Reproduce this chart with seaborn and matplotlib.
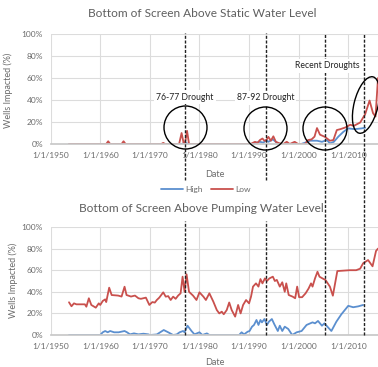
import numpy as np
import pandas as pd
import matplotlib
matplotlib.use("Agg")
import matplotlib.pyplot as plt
import matplotlib.transforms as mtransforms
from matplotlib.lines import Line2D
from matplotlib.patches import Ellipse
import seaborn as sns

# static water level - low
static_low_year = [1953.7, 1961.2, 1961.6, 1962.0, 1964.3, 1964.7, 1965.1, 1972.3, 1972.7, 1973.1,
                   1975.9, 1976.4, 1976.8, 1977.1, 1977.5, 1977.9, 1990.3, 1991.2, 1991.7, 1992.2,
                   1992.7, 1993.1, 1993.4, 1993.9, 1994.4, 1994.9, 1995.4, 1996.2, 1996.9, 1997.6,
                   1998.2, 1999.2, 1999.9, 2001.3, 2001.9, 2002.6, 2003.2, 2003.7, 2004.3, 2005.3,
                   2006.3, 2007.0, 2007.7, 2008.4, 2009.4, 2010.4, 2011.1, 2012.4, 2013.4, 2014.3,
                   2015.0, 2015.5, 2016.0]
static_low = [0, 0, 2.5, 0, 0, 2.5, 0, 0, 1, 0,
              0, 10, 1, 1, 12, 0, 0, 2, 1, 3.6,
              5, 3, 3, 6.5, 3, 7, 2, 0.5, 0, 2,
              0, 2, 0, 0, 3.6, 4.2, 6.7, 14.5, 8.5, 6.5,
              3, 3.6, 12.7, 13.5, 15, 17.5, 16.5, 19.5, 27, 39.5,
              28, 25, 60]

# static water level - high
static_high_year = [1953.7, 1976.5, 1977.0, 1977.5, 1978.0, 1990.5, 1991.2, 1992.2, 1992.9, 1993.4,
                    1993.9, 1994.8, 1995.6, 1996.2, 2000.5, 2001.3, 2002.3, 2003.7, 2004.7, 2005.7,
                    2006.3, 2007.1, 2008.0, 2009.0, 2010.0, 2011.3, 2012.7, 2013.4]
static_high = [0, 0, 1.5, 0.5, 0, 0, 1, 2, 1.2, 3.6,
               2, 4.2, 1.2, 0, 0, 1.2, 3, 3, 2, 3.6,
               0.6, 2, 6.7, 11, 14.2, 13.5, 14.2, 14.8]

# pumping water level - low
pump_low_year = [1953.7, 1954.2, 1954.7, 1955.2, 1956.9, 1957.2, 1957.7, 1958.2, 1959.1, 1959.7,
                 1960.0, 1960.5, 1961.0, 1961.2, 1961.8, 1962.3, 1963.6, 1964.3, 1964.9, 1965.3,
                 1966.2, 1967.0, 1967.7, 1968.2, 1969.2, 1969.9, 1970.5, 1971.0, 1971.4, 1971.9,
                 1972.7, 1973.2, 1973.7, 1974.2, 1974.7, 1975.2, 1975.7, 1976.2, 1976.6, 1977.0,
                 1977.4, 1977.9, 1978.7, 1979.4, 1980.0, 1980.8, 1981.3, 1982.0, 1982.8, 1983.5,
                 1984.0, 1984.5, 1984.9, 1985.5, 1986.0, 1986.5, 1987.2, 1987.8, 1988.3, 1988.8,
                 1989.4, 1990.0, 1990.4, 1990.8, 1991.4, 1991.9, 1992.3, 1992.7, 1993.2, 1993.6,
                 1994.1, 1994.8, 1995.2, 1995.6, 1996.2, 1996.7, 1997.2, 1997.5, 1998.0, 1998.8,
                 1999.3, 1999.7, 2000.1, 2000.7, 2001.4, 2002.0, 2002.5, 2002.8, 2003.3, 2003.8,
                 2004.2, 2004.8, 2005.4, 2006.3, 2006.9, 2007.8, 2010.3, 2011.6, 2012.4, 2013.0,
                 2014.0, 2014.9, 2015.6, 2016.0]
pump_low = [30.3, 26.6, 29.3, 28.4, 28.4, 26.2, 34, 27.8, 25.3, 29.3,
            27.8, 31.5, 33, 30.5, 43.8, 37, 36.5, 35.6, 44.7, 37,
            35.6, 36.5, 34, 33.5, 34.6, 27.8, 30.5, 30, 32.4, 34.6,
            39.5, 35.5, 36, 32.4, 35.5, 33.5, 36.5, 38.6, 54, 40,
            56.2, 40, 36.5, 32.4, 39.5, 35.5, 32.4, 38.6, 30.9, 23.1,
            20, 21.6, 19.2, 23.1, 30.1, 23.1, 17, 27.8, 20, 27.8,
            32.4, 29.3, 35.5, 44.8, 47.8, 44.8, 51.8, 47.8, 52.4, 50,
            52.4, 54, 50, 51, 44.8, 48.8, 40, 47.8, 37, 35.5,
            34, 44.8, 35, 35, 38.6, 43, 47.8, 44.8, 52.4, 58.6,
            54, 52.4, 51, 44.8, 36.4, 59.2, 60, 60, 61.4, 66.4,
            69.4, 63.6, 77.8, 80]

# pumping water level - high
pump_high_year = [1953.7, 1960.0, 1960.5, 1961.0, 1961.5, 1962.0, 1962.8, 1963.7, 1964.9, 1965.4,
                  1966.0, 1966.8, 1967.7, 1968.7, 1969.7, 1970.0, 1971.4, 1972.8, 1973.7, 1974.7,
                  1975.4, 1976.0, 1976.7, 1977.0, 1977.6, 1978.4, 1979.0, 1980.0, 1980.6, 1981.5,
                  1982.0, 1988.0, 1988.5, 1989.0, 1989.7, 1990.1, 1990.6, 1991.0, 1991.5, 1991.9,
                  1992.3, 1992.6, 1993.1, 1993.6, 1994.0, 1994.6, 1995.1, 1995.8, 1996.2, 1996.7,
                  1997.2, 1997.9, 1998.7, 1999.6, 2000.6, 2001.6, 2002.8, 2003.3, 2003.9, 2004.7,
                  2005.2, 2005.8, 2006.6, 2007.6, 2008.6, 2010.0, 2011.0, 2012.0, 2013.0]
pump_high = [0, 0, 2.5, 3.7, 2.5, 3.7, 2.5, 2.5, 3.7, 2.5,
             0.6, 1.5, 0.6, 1.2, 0.6, 0, 0.5, 4.6, 2.5, 0,
             0.5, 2.5, 3.7, 2.5, 8.6, 3.7, 0.6, 2.5, 0, 1.5,
             0, 0, 2.5, 0.6, 3, 3.7, 7.7, 9.3, 13.9, 9.3,
             13.9, 11.7, 14.8, 9.3, 12.3, 14.8, 9.9, 3.7, 8.6, 3.7,
             7.7, 5.6, 0, 2.5, 3.7, 9.3, 11.7, 10.8, 13, 8.6,
             10.8, 7.7, 3.7, 12.3, 19.1, 27, 25.7, 26.5, 27.8]

drought_years = [1977.0, 1993.4, 2005.3, 2013.2]
decades = [1950, 1960, 1970, 1980, 1990, 2000, 2010]
decade_labels = ["1/1/" + str(d) for d in decades]

def long_df(hy, hv, ly, lv):
    a = pd.DataFrame({"Date": hy, "pct": hv, "series": "High"})
    b = pd.DataFrame({"Date": ly, "pct": lv, "series": "Low"})
    return pd.concat([a, b], ignore_index=True)

static_df = long_df(static_high_year, static_high, static_low_year, static_low)
pump_df = long_df(pump_high_year, pump_high, pump_low_year, pump_low)

sns.set_theme(style="white")
plt.rcParams["font.family"] = ["Lato", "DejaVu Sans"]

palette = {"High": "#5B8FCF", "Low": "#C9504D"}
txt_gray = "#6B6B6B"
grid_c = "#DCDCDC"

fig = plt.figure(figsize=(3.78, 3.67), dpi=100)
ax1 = fig.add_axes([0.134, 0.6076, 0.866, 0.2997])
ax2 = fig.add_axes([0.134, 0.0872, 0.866, 0.2943])

for ax, df, title, ty in [(ax1, static_df, "Bottom of Screen Above Static Water Level", 0.962),
                          (ax2, pump_df, "Bottom of Screen Above Pumping Water Level", 0.433)]:
    sns.lineplot(data=df, x="Date", y="pct", hue="series", palette=palette,
                 linewidth=1.3, legend=False, ax=ax, estimator=None, sort=False)
    ax.set_xlim(1950, 2016.0)
    ax.set_ylim(0, 100)
    ax.set_xticks(decades)
    ax.set_xticklabels(decade_labels)
    ax.set_yticks(range(0, 101, 20))
    ax.set_yticklabels([f"{v}%" for v in range(0, 101, 20)])
    ax.tick_params(length=0, labelsize=6, colors=txt_gray, pad=5.5)
    ax.grid(True, color=grid_c, linewidth=0.8)
    ax.set_axisbelow(True)
    for s in ["top", "right", "left"]:
        ax.spines[s].set_visible(False)
    ax.spines["bottom"].set_color("#C8C8C8")
    ax.set_xlabel("Date", fontsize=6.5, color=txt_gray)
    ax.set_ylabel("Wells Impacted (%)", fontsize=6.5, color=txt_gray)
    fig.text(0.534, ty, title, ha="center", va="center", fontsize=8.6, color="#5F5F5F")

ax1.xaxis.set_label_coords(0.5, -0.24)
ax2.xaxis.set_label_coords(0.5, -0.215)
ax1.yaxis.set_label_coords(-0.115, 0.49)
ax2.yaxis.set_label_coords(-0.1, 0.51)

# legend between the panels
handles = [Line2D([0], [0], color=palette["High"], lw=1.3),
           Line2D([0], [0], color=palette["Low"], lw=1.3)]
fig.legend(handles, ["High", "Low"], loc="center", bbox_to_anchor=(0.545, 0.485),
           ncol=2, frameon=False, fontsize=6, handlelength=2.6, columnspacing=1.0,
           handletextpad=0.3, labelcolor=txt_gray)

# dashed drought markers spanning both panels
trans = mtransforms.blended_transform_factory(ax1.transData, fig.transFigure)
dash = dict(color="#222222", lw=1.0, linestyle=(0, (2.2, 1.2)), transform=trans, zorder=5)
for i, yr in enumerate(drought_years):
    if i < 2:
        fig.add_artist(Line2D([yr, yr], [0.5095, 0.910], **dash))
        fig.add_artist(Line2D([yr, yr], [0.0872, 0.398], **dash))
    else:
        fig.add_artist(Line2D([yr, yr], [0.0872, 0.910], **dash))

# circles around drought periods (pixel positions -> inches)
def px(x, y):
    return (x / 100, (367 - y) / 100)

circ = dict(fill=False, edgecolor="black", lw=1.0, transform=fig.dpi_scale_trans, zorder=6)
fig.add_artist(Ellipse(px(185.5, 127.5), 0.43, 0.43, **circ))
fig.add_artist(Ellipse(px(265.5, 128.5), 0.43, 0.43, **circ))
fig.add_artist(Ellipse(px(325.0, 128.5), 0.44, 0.43, **circ))
fig.add_artist(Ellipse(px(366.0, 105.0), 0.24, 0.58, angle=-14, **circ))

box = dict(facecolor="white", edgecolor="none", pad=1.5)
fig.text(185 / 378, 1 - 97 / 367, "76-77 Drought", ha="center", va="center",
         fontsize=6.2, color="#222222", bbox=box, zorder=7)
fig.text(265.5 / 378, 1 - 98 / 367, "87-92 Drought", ha="center", va="center",
         fontsize=6.2, color="#222222", bbox=box, zorder=7)
fig.text(327 / 378, 1 - 66 / 367, "Recent Droughts", ha="center", va="center",
         fontsize=6.2, color="#222222", bbox=box, zorder=7)

fig.savefig("out.png", dpi=100)
